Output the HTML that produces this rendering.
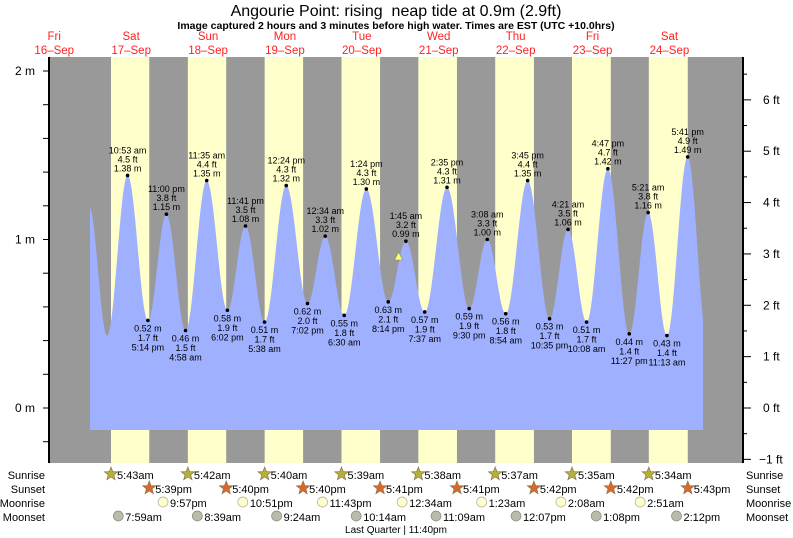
<!DOCTYPE html>
<html><head><meta charset="utf-8"><style>
html,body{margin:0;padding:0;background:#fff;}
svg{display:block;font-family:"Liberation Sans",Arial,sans-serif;}
</style></head><body>
<svg id="s" width="793" height="538" xmlns="http://www.w3.org/2000/svg">
<text x="396" y="16" font-size="16" text-anchor="middle" fill="#000">Angourie Point: rising&#160; neap tide at 0.9m (2.9ft)</text>
<text x="396" y="29" font-size="10.5" font-weight="bold" text-anchor="middle" fill="#000">Image captured 2 hours and 3 minutes before high water. Times are EST (UTC +10.0hrs)</text>
<g id="g"></g>
</svg>
<script>
const NS="http://www.w3.org/2000/svg",g=document.getElementById('g');
function el(t,a,txt){const e=document.createElementNS(NS,t);for(const k in a)e.setAttribute(k,a[k]);if(txt!=null)e.textContent=txt;g.appendChild(e);return e;}
const X0=92.7,DW=76.9,TOP=57,BOT=463,L=49,R=743;
const Y=m=>408-168.5*m;
const X=(d,h,mi)=>X0+(d-17+(h+mi/60)/24)*DW;
el('rect',{x:L,y:TOP,width:R-L,height:BOT-TOP,fill:'#999'});
const sr=[[5,43],[5,42],[5,40],[5,39],[5,38],[5,37],[5,35],[5,34]];
const ss=[[17,39],[17,40],[17,40],[17,41],[17,41],[17,42],[17,42],[17,43]];
for(let i=0;i<8;i++){const a=X(17+i,sr[i][0],sr[i][1]),b=X(17+i,ss[i][0],ss[i][1]);el('rect',{x:a,y:TOP,width:b-a,height:BOT-TOP,fill:'#ffffcc'});}
const days=['Fri','Sat','Sun','Mon','Tue','Wed','Thu','Fri','Sat'];
for(let i=0;i<9;i++){const x=X(16+i,12,0);el('text',{x:x,y:40,'font-size':11.5,'text-anchor':'middle',fill:'#f22'},days[i]);el('text',{x:x,y:54,'font-size':11.5,'text-anchor':'middle',fill:'#f22'},(16+i)+'\u2013Sep');}
const E=[[16,22,50,1.2,1],[17,4,30,0.43,0],[17,10,53,1.38,1],[17,17,14,0.52,0],[17,23,0,1.15,1],[18,4,58,0.46,0],[18,11,35,1.35,1],[18,18,2,0.58,0],[18,23,41,1.08,1],[19,5,38,0.51,0],[19,12,24,1.32,1],[19,19,2,0.62,0],[20,0,34,1.02,1],[20,6,30,0.55,0],[20,13,24,1.30,1],[20,20,14,0.63,0],[21,1,45,0.99,1],[21,7,37,0.57,0],[21,14,35,1.31,1],[21,21,30,0.59,0],[22,3,8,1.00,1],[22,8,54,0.56,0],[22,15,45,1.35,1],[22,22,35,0.53,0],[23,4,21,1.06,1],[23,10,8,0.51,0],[23,16,47,1.42,1],[23,23,27,0.44,0],[24,5,21,1.16,1],[24,11,13,0.43,0],[24,17,41,1.49,1],[24,23,50,0.40,0]];
const P=E.map(e=>[X(e[0],e[1],e[2]),e[3]]);
const x0=90,x1=703,yb=430;
let d='M'+x0+','+yb;
for(let x=x0;x<=x1;x+=0.5){let i=0;while(i<P.length-2&&P[i+1][0]<x)i++;const[a,va]=P[i],[b,vb]=P[i+1];let t=(x-a)/(b-a);t=Math.max(0,Math.min(1,t));const v=va+(vb-va)*(1-Math.cos(Math.PI*t))/2;d+=' L'+x.toFixed(1)+','+Y(v).toFixed(1);}
d+=' L'+x1+','+yb+' Z';
el('path',{d:d,fill:'#9fb0ff'});
function fmt(h,m){const ap=h<12?'am':'pm';let hh=h%12;if(hh==0)hh=12;return hh+':'+(m<10?'0':'')+m+' '+ap;}
for(let i=1;i<E.length-1;i++){const e=E[i];if(e[0]==17&&e[1]==4)continue;const x=P[i][0],y=Y(e[3]);el('circle',{cx:x,cy:y,r:1.8,fill:'#000'});
const ft=(e[3]/0.3048).toFixed(1)+' ft',m=e[3].toFixed(2)+' m',t=fmt(e[1],e[2]);
const fs={'font-size':9,'text-anchor':'middle',fill:'#000'};
if(e[4]){el('text',Object.assign({x:x,y:y-22},fs),t);el('text',Object.assign({x:x,y:y-13},fs),ft);el('text',Object.assign({x:x,y:y-4},fs),m);}
else{el('text',Object.assign({x:x,y:y+11},fs),m);el('text',Object.assign({x:x,y:y+20.5},fs),ft);el('text',Object.assign({x:x,y:y+30},fs),t);}}
el('polygon',{points:'398.6,252 394.5,260 402.7,260',fill:'#ffff66',stroke:'#886','stroke-width':0.6});
el('line',{x1:L,y1:TOP,x2:L,y2:BOT,stroke:'#000','stroke-width':2});
el('line',{x1:R,y1:TOP,x2:R,y2:BOT,stroke:'#000','stroke-width':2});
for(let v=-0.2;v<=2.2;v+=0.2){const y=Y(v);if(y<TOP||y>BOT)continue;el('line',{x1:L-6,y1:y,x2:L,y2:y,stroke:'#000','stroke-width':1});}
[[2,'2 m'],[1,'1 m'],[0,'0 m']].forEach(a=>el('text',{x:35,y:Y(a[0])+4,'font-size':12,'text-anchor':'end'},a[1]));
for(let f=-1;f<=6.5;f+=0.5){const y=Y(f*0.3048);if(y<TOP||y>BOT+1)continue;const maj=f==Math.round(f);el('line',{x1:R,y1:y,x2:R+(maj?8:4),y2:y,stroke:'#000','stroke-width':1});if(maj)el('text',{x:(f<0?759:763),y:y+4,'font-size':12},(f<0?'\u22121':f)+' ft');}
const lab=['Sunrise','Sunset','Moonrise','Moonset'],ry=[479,493,507,521];
lab.forEach((s,i)=>{el('text',{x:45,y:ry[i],'font-size':11,'text-anchor':'end'},s);el('text',{x:746,y:ry[i],'font-size':11},s);});
function star(cx,cy,fill){let p=[];for(let k=0;k<10;k++){const r=k%2?3:7,a=-Math.PI/2+k*Math.PI/5;p.push((cx+r*Math.cos(a)).toFixed(1)+','+(cy+r*Math.sin(a)).toFixed(1));}el('polygon',{points:p.join(' '),fill:fill,stroke:'#875','stroke-width':0.7});}
const f2=(h,m)=>{const ap=h<12?'am':'pm';let hh=h%12;if(hh==0)hh=12;return hh+':'+(m<10?'0':'')+m+ap;};
for(let i=0;i<8;i++){let x=X(17+i,sr[i][0],sr[i][1]);star(x,474,'#b5b03a');el('text',{x:x+6,y:479,'font-size':11},f2(sr[i][0],sr[i][1]));
x=X(17+i,ss[i][0],ss[i][1]);star(x,488,'#d8692a');el('text',{x:x+6,y:493,'font-size':11},f2(ss[i][0],ss[i][1]));}
const mr=[[17,21,57],[18,22,51],[19,23,43],[21,0,34],[22,1,23],[23,2,8],[24,2,51]];
mr.forEach(a=>{const x=X(a[0],a[1],a[2]);el('circle',{cx:x,cy:502,r:5,fill:'#ffffcc',stroke:'#aa9','stroke-width':0.7});el('text',{x:x+7,y:507,'font-size':11},f2(a[1],a[2]));});
const ms=[[17,7,59],[18,8,39],[19,9,24],[20,10,14],[21,11,9],[22,12,7],[23,13,8],[24,14,12]];
ms.forEach(a=>{const x=X(a[0],a[1],a[2]);el('circle',{cx:x,cy:516,r:5,fill:'#bbbbaa',stroke:'#887','stroke-width':0.7});el('text',{x:x+7,y:521,'font-size':11},f2(a[1],a[2]));});
el('text',{x:396,y:533,'font-size':10,'text-anchor':'middle'},'Last Quarter | 11:40pm');
</script>
</body></html>
